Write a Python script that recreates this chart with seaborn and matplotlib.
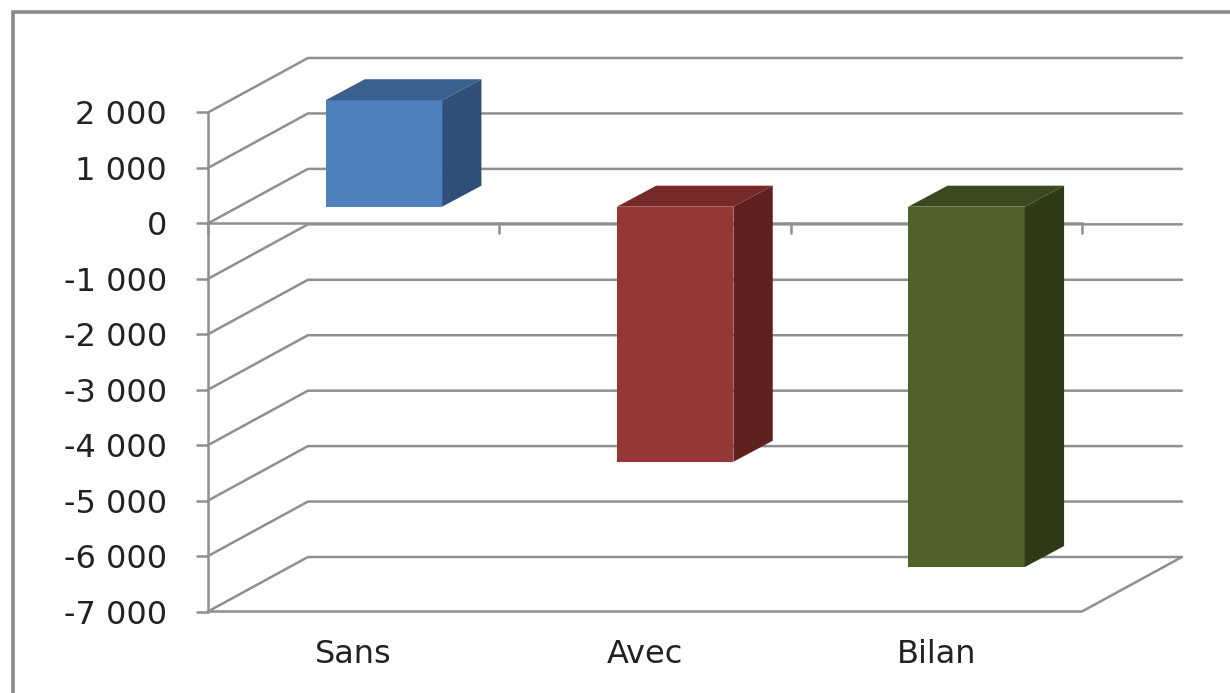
import numpy as np
import pandas as pd
import seaborn as sns
import matplotlib.pyplot as plt
from matplotlib.patches import Polygon, Rectangle

W, H = 1230, 693

categories = ["Sans", "Avec", "Bilan"]
values = [1920, -4600, -6500]
front_colors = ["#4f81bd", "#953735", "#4f6228"]
side_colors = ["#2f4f78", "#5f2120", "#2f3b17"]
top_colors = ["#3a6090", "#752a28", "#3b4a1e"]
ticks = [2000, 1000, 0, -1000, -2000, -3000, -4000, -5000, -6000, -7000]
tick_labels = ["2 000", "1 000", "0", "-1 000", "-2 000", "-3 000", "-4 000", "-5 000", "-6 000", "-7 000"]

sns.set_theme(style="white")
plt.rcParams["font.family"] = ["DejaVu Sans"]

fig = plt.figure(figsize=(W / 100, H / 100), dpi=100)
ax = fig.add_axes([208 / W, 1 - 611.5 / H, 874 / W, 499 / H])
ax.set_xlim(-0.5, 2.5)
ax.set_ylim(-7000, 2000)

# depth of the walls and of the bars, in data units
wall_dx, wall_dy = 0.343, 983
start_dx, start_dy = 0.1035, 301
bar_dx, bar_dy = 0.135, 379

grid = "#8f8f8f"
lw = 1.8
for t in ticks:
    ax.plot([-0.5, -0.5 + wall_dx, 2.5 + wall_dx], [t, t + wall_dy, t + wall_dy],
            color=grid, lw=lw, clip_on=False, zorder=1)
ax.plot([-0.5, 2.5, 2.5 + wall_dx], [-7000, -7000, -7000 + wall_dy], color=grid, lw=lw, clip_on=False, zorder=1)
ax.plot([-0.5, 2.5], [0, 0], color=grid, lw=lw, clip_on=False, zorder=1)
ax.plot([-0.5, -0.5], [-7000, 2000], color=grid, lw=lw, clip_on=False, zorder=1)
for x in [-0.5, 0.5, 1.5, 2.5]:
    ax.plot([x, x], [0, -180], color=grid, lw=lw, clip_on=False, zorder=1)

# bars come from seaborn, then get moved back into the depth of the chart
df = pd.DataFrame({"cat": categories, "val": values})
sns.barplot(data=df, x="cat", y="val", hue="cat", palette=front_colors, legend=False,
            width=0.4, ax=ax, zorder=3, saturation=1, linewidth=0, edgecolor="none")
ax.set_xlim(-0.5, 2.5)
ax.set_ylim(-7000, 2000)
for patch, v, side, top in zip(ax.patches, values, side_colors, top_colors):
    x0 = patch.get_x() + start_dx
    x1 = x0 + patch.get_width()
    patch.set_x(x0)
    patch.set_y(start_dy)
    patch.set_clip_on(False)
    y_hi = max(v, 0) + start_dy
    y_lo = min(v, 0) + start_dy
    ax.add_patch(Polygon([(x1, y_lo), (x1 + bar_dx, y_lo + bar_dy), (x1 + bar_dx, y_hi + bar_dy), (x1, y_hi)],
                         facecolor=side, edgecolor="none", clip_on=False, zorder=3))
    ax.add_patch(Polygon([(x0, y_hi), (x0 + bar_dx, y_hi + bar_dy), (x1 + bar_dx, y_hi + bar_dy), (x1, y_hi)],
                         facecolor=top, edgecolor="none", clip_on=False, zorder=3))

for s in ax.spines.values():
    s.set_visible(False)
ax.set_xlabel("")
ax.set_ylabel("")
ax.set_yticks(ticks)
ax.set_yticklabels(tick_labels, fontsize=23, color="#222222")
ax.tick_params(axis="y", length=8.6, width=lw, color=grid, pad=21, left=True)
ax.set_xticks(range(3))
ax.set_xticklabels(categories, fontsize=23, color="#222222")
ax.tick_params(axis="x", length=0, pad=20)

# outer frame of the pasted chart, only top and left show
fig.add_artist(Rectangle((13 / W, -0.05), 1.2, 1 - 11.5 / H + 0.05, transform=fig.transFigure,
                         facecolor="none", edgecolor="#8a8a8a", lw=2.6))

fig.savefig("out.png", dpi=100)
